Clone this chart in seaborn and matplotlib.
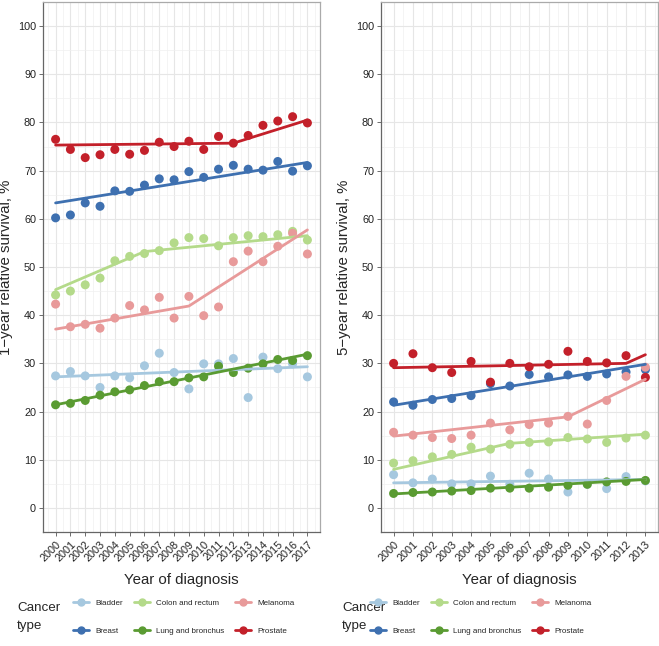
import numpy as np
import pandas as pd
import seaborn as sns
import matplotlib.pyplot as plt
from matplotlib.lines import Line2D
from matplotlib.ticker import MultipleLocator

# categories and colours
cancers = ['Bladder', 'Breast', 'Colon and rectum', 'Lung and bronchus', 'Melanoma', 'Prostate']
colors = ['#a6c8df', '#3e70b0', '#b4da8a', '#5a9b32', '#e89a9a', '#c3202a']

# 1-year relative survival, observed
years_1yr = list(range(2000, 2018))
bladder_1yr = [27.4, 28.3, 27.4, 25.0, 27.4, 27.0, 29.5, 32.1, 28.1, 24.7, 29.9, 29.9, 31.0, 22.9, 31.3, 28.9, 29.9, 27.2]
breast_1yr = [60.2, 60.8, 63.3, 62.6, 65.8, 65.7, 67.0, 68.3, 68.1, 69.8, 68.6, 70.3, 71.1, 70.3, 70.1, 71.9, 69.9, 71.0]
colon_1yr = [44.2, 45.0, 46.3, 47.7, 51.3, 52.2, 52.8, 53.4, 55.0, 56.1, 55.9, 54.4, 56.1, 56.5, 56.3, 56.7, 57.4, 55.6]
lung_1yr = [21.4, 21.7, 22.3, 23.4, 24.1, 24.5, 25.4, 26.2, 26.2, 27.0, 27.2, 29.4, 28.1, 29.0, 29.9, 30.8, 30.6, 31.6]
melanoma_1yr = [42.3, 37.6, 38.1, 37.3, 39.4, 42.0, 41.1, 43.7, 39.4, 43.9, 39.9, 41.7, 51.1, 53.3, 51.1, 54.3, 57.0, 52.7]
prostate_1yr = [76.5, 74.4, 72.7, 73.3, 74.4, 73.4, 74.2, 75.9, 75.0, 76.1, 74.4, 77.1, 75.7, 77.3, 79.4, 80.3, 81.2, 79.9]

# 1-year joinpoint fits (year, value)
bladder_1yr_fit = ([2000, 2017], [27.2, 29.3])
breast_1yr_fit = ([2000, 2017], [63.3, 71.7])
colon_1yr_fit = ([2000, 2006, 2017], [45.3, 53.2, 56.5])
lung_1yr_fit = ([2000, 2017], [21.4, 31.9])
melanoma_1yr_fit = ([2000, 2009, 2017], [37.1, 41.9, 57.7])
prostate_1yr_fit = ([2000, 2012, 2017], [75.3, 75.7, 80.5])

# 5-year relative survival, observed
years_5yr = list(range(2000, 2014))
bladder_5yr = [6.9, 5.2, 6.0, 5.0, 5.0, 6.6, 4.9, 7.2, 6.0, 3.3, 4.9, 4.0, 6.5, 5.6]
breast_5yr = [22.0, 21.3, 22.5, 22.7, 23.3, 25.8, 25.3, 27.7, 27.2, 27.6, 27.3, 27.8, 28.2, 28.7]
colon_5yr = [9.3, 9.8, 10.6, 11.1, 12.6, 12.2, 13.2, 13.6, 13.7, 14.6, 14.3, 13.6, 14.5, 15.1]
lung_5yr = [3.0, 3.2, 3.3, 3.5, 3.6, 4.1, 4.1, 4.1, 4.3, 4.7, 4.9, 5.4, 5.5, 5.7]
melanoma_5yr = [15.7, 15.1, 14.6, 14.4, 15.1, 17.6, 16.2, 17.3, 17.6, 19.0, 17.4, 22.3, 27.3, 29.2]
prostate_5yr = [30.0, 32.0, 29.1, 28.1, 30.4, 26.1, 30.0, 29.3, 29.8, 32.5, 30.4, 30.1, 31.6, 27.1]

# 5-year joinpoint fits
bladder_5yr_fit = ([2000, 2013], [5.2, 5.9])
breast_5yr_fit = ([2000, 2013], [21.3, 29.8])
colon_5yr_fit = ([2000, 2006, 2013], [8.0, 13.4, 15.3])
lung_5yr_fit = ([2000, 2013], [2.9, 5.9])
melanoma_5yr_fit = ([2000, 2009, 2013], [14.9, 18.9, 26.7])
prostate_5yr_fit = ([2000, 2012, 2013], [29.1, 30.0, 31.8])


def long_frame(years, series):
    rows = []
    for name, vals in zip(cancers, series):
        for y, v in zip(years, vals):
            rows.append({'year': y, 'survival': v, 'cancer': name})
    return pd.DataFrame(rows)


def fit_frame(fits):
    rows = []
    for name, (ys, vs) in zip(cancers, fits):
        for y, v in zip(ys, vs):
            rows.append({'year': y, 'survival': v, 'cancer': name})
    return pd.DataFrame(rows)


obs_1 = long_frame(years_1yr, [bladder_1yr, breast_1yr, colon_1yr, lung_1yr, melanoma_1yr, prostate_1yr])
fit_1 = fit_frame([bladder_1yr_fit, breast_1yr_fit, colon_1yr_fit, lung_1yr_fit, melanoma_1yr_fit, prostate_1yr_fit])
obs_5 = long_frame(years_5yr, [bladder_5yr, breast_5yr, colon_5yr, lung_5yr, melanoma_5yr, prostate_5yr])
fit_5 = fit_frame([bladder_5yr_fit, breast_5yr_fit, colon_5yr_fit, lung_5yr_fit, melanoma_5yr_fit, prostate_5yr_fit])

sns.set_theme(style='white')
plt.rcParams['font.family'] = ['Liberation Sans', 'DejaVu Sans']

palette = dict(zip(cancers, colors))

fig = plt.figure(figsize=(6.59, 6.46), dpi=100)
ax1 = fig.add_axes([43 / 659, 1 - 532 / 646, 277 / 659, 530 / 646])
ax2 = fig.add_axes([381 / 659, 1 - 532 / 646, 277 / 659, 530 / 646])


def draw_panel(ax, obs, fit, years, ylabel):
    ax.set_axisbelow(True)
    sns.scatterplot(ax=ax, data=obs, x='year', y='survival', hue='cancer', palette=palette,
                    s=42, linewidth=0, legend=False, zorder=3)
    sns.lineplot(ax=ax, data=fit, x='year', y='survival', hue='cancer', palette=palette,
                 linewidth=2.0, legend=False, zorder=4)
    span = years[-1] - years[0]
    ax.set_xlim(years[0] - 0.05 * span, years[-1] + 0.05 * span)
    ax.set_ylim(-5, 105)
    ax.set_xticks(years)
    ax.set_xticklabels([str(y) for y in years], rotation=45, ha='right', rotation_mode='anchor')
    ax.xaxis.set_minor_locator(MultipleLocator(0.5))
    ax.yaxis.set_minor_locator(MultipleLocator(5))
    ax.set_yticks(range(0, 101, 10))
    ax.grid(which='major', color='#e6e6e6', linewidth=0.8)
    ax.grid(which='minor', color='#f0f0f0', linewidth=0.5)
    ax.tick_params(axis='both', which='major', length=3, width=0.6, color='#555555',
                   labelsize=7.8, labelcolor='#222222', bottom=True, left=True, pad=2)
    ax.tick_params(which='minor', length=0)
    for side in ['left', 'bottom']:
        ax.spines[side].set_color('#666666')
        ax.spines[side].set_linewidth(0.9)
    for side in ['right', 'top']:
        ax.spines[side].set_color('#aaaaaa')
        ax.spines[side].set_linewidth(0.9)
    ax.set_xlabel('Year of diagnosis', fontsize=10.8, labelpad=7)
    ax.set_ylabel(ylabel, fontsize=10.8)
    ax.yaxis.set_label_coords(-0.107, 0.5)


draw_panel(ax1, obs_1, fit_1, years_1yr, '1\u2212year relative survival, %')
draw_panel(ax2, obs_5, fit_5, years_5yr, '5\u2212year relative survival, %')

# legends under each panel
handles = [Line2D([0], [0], color=c, marker='o', markersize=5, linewidth=2.0) for c in colors]
for x0, title_x in [(70 / 659, 17 / 659), (367 / 659, 342 / 659)]:
    fig.text(title_x, 0.045, 'Cancer\ntype', fontsize=9.6, ha='left', va='center', linespacing=1.75)
    fig.legend(handles, cancers, loc='center left', bbox_to_anchor=(x0, 0.045), ncol=3,
               frameon=False, fontsize=5.8, handlelength=2.0, columnspacing=1.3,
               labelspacing=2.5, handletextpad=0.8, borderaxespad=0)

fig.savefig('out.png', dpi=100)
